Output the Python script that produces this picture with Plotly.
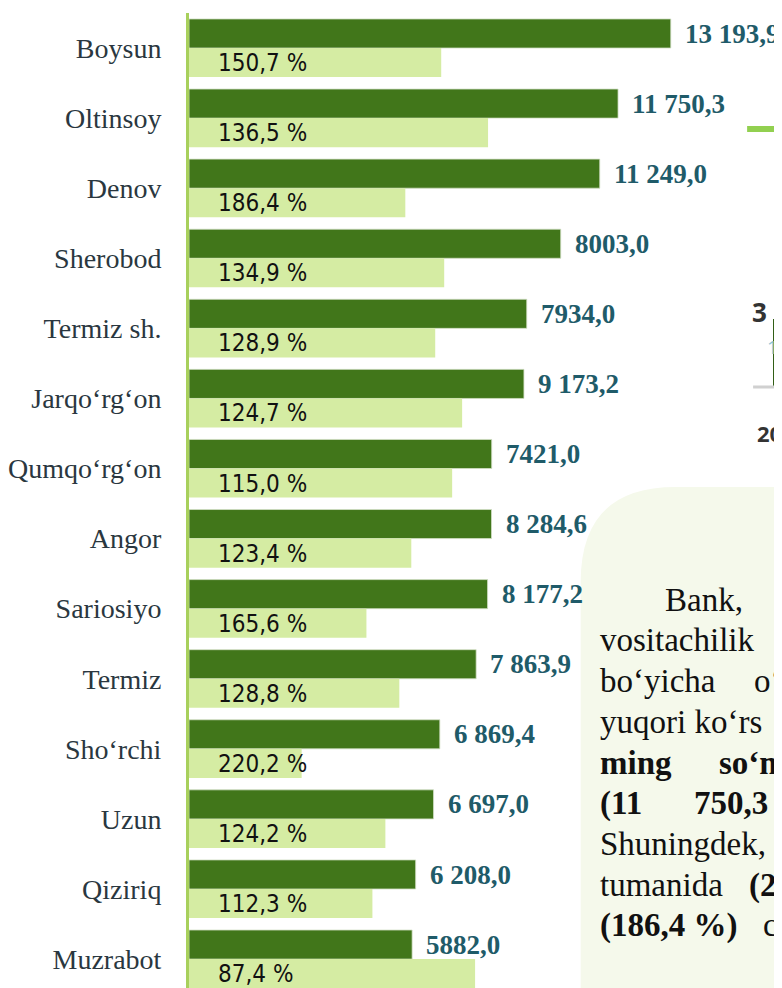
import plotly.graph_objects as go

districts = ["Boysun", "Oltinsoy", "Denov", "Sherobod", "Termiz sh.", "Jarqo‘rg‘on",
             "Qumqo‘rg‘on", "Angor", "Sariosiyo", "Termiz", "Sho‘rchi", "Uzun",
             "Qiziriq", "Muzrabot"]
# bar lengths (the slide's labels do not always match them)
current_bar = [13194, 11750, 11249, 10180, 9250, 9173, 8290, 8285, 8177, 7864,
               6869, 6697, 6208, 6110]
previous_bar = [6907, 8190, 5924, 6989, 6743, 7480, 7207, 6088, 4859, 5760,
                3085, 5378, 5023, 7835]
current_labels = ["13 193,9", "11 750,3", "11 249,0", "8003,0", "7934,0", "9 173,2",
                  "7421,0", "8 284,6", "8 177,2", "7 863,9", "6 869,4", "6 697,0",
                  "6 208,0", "5882,0"]
growth_labels = ["150,7 %", "136,5 %", "186,4 %", "134,9 %", "128,9 %", "124,7 %",
                 "115,0 %", "123,4 %", "165,6 %", "128,8 %", "220,2 %", "124,2 %",
                 "112,3 %", "87,4 %"]

DARK = "#41761a"
LIGHT = "#d5eca3"
TEAL = "#1f5b69"
serif = "Liberation Serif, Times New Roman, serif"

# the page puts the figure 8px in from the corner, so work in page pixels
OFF = 8
FIG_W, FIG_H = 782 - OFF, 988 - OFF
PL, PT, PW = 187, 13, 595           # plot area on the page
PB = OFF + FIG_H                    # plot bottom on the page
PH = PB - PT
PITCH = 70.08                       # px per category


def px(x):
    return (x - PL) / PW


def py(y):
    return (PB - y) / PH


fig = go.Figure()
fig.add_trace(go.Bar(y=districts, x=current_bar, orientation="h",
                     marker=dict(color=DARK, line=dict(color="#d3dfc6", width=0.8)),
                     hoverinfo="x+y"))
fig.add_trace(go.Bar(y=districts, x=previous_bar, orientation="h",
                     marker=dict(color=LIGHT, line=dict(width=0)),
                     hoverinfo="x+y"))

for d, v, lab in zip(districts, current_bar, current_labels):
    fig.add_annotation(x=v, y=d, text="<b>" + lab + "</b>", showarrow=False,
                       xanchor="left", xshift=12, yshift=14.5,
                       font=dict(family=serif, size=27, color=TEAL))

for d, lab in zip(districts, growth_labels):
    fig.add_annotation(x=px(214), xref="paper", y=d, text=lab, showarrow=False,
                       xanchor="left", yshift=-15,
                       font=dict(family="DejaVu Sans Condensed, Noto Sans, sans-serif",
                                 size=24, color="#111111"))

# text box on the right of the slide
r = 95
box = (f"M {px(580)} {py(1000)} L {px(580)} {py(487 + r)} "
       f"Q {px(580)} {py(487)} {px(580 + r)} {py(487)} "
       f"L {px(800)} {py(487)} L {px(800)} {py(1000)} Z")
fig.add_shape(type="path", path=box, xref="paper", yref="paper",
              fillcolor="#f5f9eb", line=dict(width=0), layer="above")

box_words = [
    (663, 600, "Bank,"),
    (597, 640, "vositachilik"),
    (597, 681, "bo‘yicha"),
    (752, 681, "o‘"),
    (597, 722, "yuqori ko‘rs"),
    (597, 763, "<b>ming</b>"),
    (717, 763, "<b>so‘m</b>"),
    (597, 803, "<b>(11</b>"),
    (692, 803, "<b>750,3</b>"),
    (597, 844, "Shuningdek,"),
    (597, 885, "tumanida"),
    (747, 885, "<b>(2</b>"),
    (597, 925, "<b>(186,4 %)</b>"),
    (761, 925, "c"),
]
for x, y, t in box_words:
    fig.add_annotation(x=px(x), y=py(y), xref="paper", yref="paper", text=t,
                       showarrow=False, xanchor="left", yanchor="middle",
                       font=dict(family=serif, size=33, color="#111111"))

# pieces of the neighbouring chart, cut by the slide edge
fig.add_shape(type="line", xref="paper", yref="paper",
              x0=px(747), x1=px(777), y0=py(129), y1=py(129),
              line=dict(color="#92d050", width=6))
fig.add_shape(type="circle", xref="paper", yref="paper",
              x0=px(777), x1=px(799), y0=py(140), y1=py(118),
              line=dict(color="#92d050", width=5))
fig.add_shape(type="rect", xref="paper", yref="paper",
              x0=px(773), x1=px(790), y0=py(386), y1=py(319),
              fillcolor="#2d5a10", line=dict(width=0))
fig.add_shape(type="line", xref="paper", yref="paper",
              x0=px(753), x1=px(790), y0=py(387), y1=py(387),
              line=dict(color="#d0d0d0", width=3))
fig.add_annotation(x=px(750), y=py(292), xref="paper", yref="paper", text="<b>3 2</b>",
                   showarrow=False, xanchor="left",
                   font=dict(family="Open Sans, sans-serif", size=26, color="#333333"))
fig.add_annotation(x=px(765), y=py(347), xref="paper", yref="paper", text="1",
                   showarrow=False, xanchor="left",
                   font=dict(family="Open Sans, sans-serif", size=19, color="#8cc3d6"))
fig.add_annotation(x=px(755), y=py(433), xref="paper", yref="paper", text="<b>20</b>",
                   showarrow=False, xanchor="left",
                   font=dict(family="Open Sans, sans-serif", size=22, color="#333333"))

fig.update_layout(
    width=FIG_W, height=FIG_H,
    margin=dict(l=PL - OFF, r=782 - PL - PW, t=PT - OFF, b=0),
    barmode="group", bargap=0.17, bargroupgap=0,
    plot_bgcolor="white", paper_bgcolor="white",
    showlegend=False,
)
fig.update_xaxes(range=[0, 16240], visible=False)
fig.update_yaxes(type="category", range=[-0.5 + PH / PITCH, -0.5], showgrid=False,
                 showline=True, linecolor="#a8d05c", linewidth=3,
                 ticks="", ticklabelstandoff=19,
                 tickfont=dict(family=serif, size=28, color="#2a3740"))

fig.write_html("out.html")
